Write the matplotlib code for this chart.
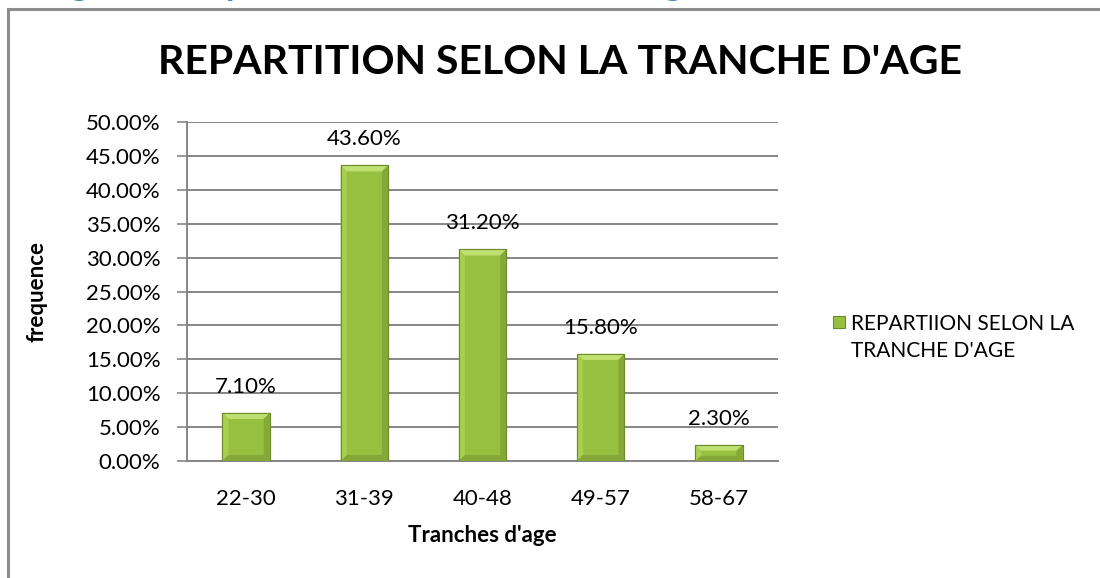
import matplotlib.pyplot as plt
from matplotlib.patches import Polygon, Rectangle
import numpy as np

plt.rcParams['font.family'] = ['Lato', 'DejaVu Sans']

# Data
tranches = ['22-30', '31-39', '40-48', '49-57', '58-67']
frequences = [7.10, 43.60, 31.20, 15.80, 2.30]  # en %
y_ticks = [0, 5, 10, 15, 20, 25, 30, 35, 40, 45, 50]
serie = "REPARTIION SELON LA\nTRANCHE D'AGE"

fig = plt.figure(figsize=(11, 5.78), dpi=100)
ax = fig.add_axes([0.170, 0.2024, 0.5373, 0.5865])

# outer frame of the chart object
fig.patches.append(Rectangle((8 / 1100, -0.05), 1.2, 1 - 9 / 578 + 0.05,
                             transform=fig.transFigure, fill=False,
                             edgecolor='#8c8c8c', linewidth=2.2))

# heading of the document, cut off at the top
fig.text(42 / 1100, 1 + 5 / 578, "Figure 1 : répartition selon la tranche d'age",
         color='#4f81bd', fontsize=25, fontweight='bold', va='baseline', ha='left')

x = np.arange(len(tranches))
bars = ax.bar(x, frequences, width=0.4, color='#98c040', edgecolor='#6b8a2a',
              linewidth=0.8, zorder=3)

# bevel effect on each bar
px_y = 50 / 339.0   # data units per pixel (y)
px_x = 5 / 591.0    # data units per pixel (x)
for b in bars:
    x0, y0 = b.get_x(), b.get_y()
    w, h = b.get_width(), b.get_height()
    x1, y1 = x0 + w, y0 + h
    bx = 6 * px_x
    by = min(6 * px_y, h / 3)
    ax.add_patch(Polygon([(x0, y1), (x1, y1), (x1 - bx, y1 - by), (x0 + bx, y1 - by)],
                         closed=True, facecolor='#c0e172', edgecolor='none', zorder=4))
    ax.add_patch(Polygon([(x0, y1), (x0 + bx, y1 - by), (x0 + bx, y0 + by), (x0, y0)],
                         closed=True, facecolor='#a9cf50', edgecolor='none', zorder=4))
    ax.add_patch(Polygon([(x1, y1), (x1 - bx, y1 - by), (x1 - bx, y0 + by), (x1, y0)],
                         closed=True, facecolor='#85a838', edgecolor='none', zorder=4))
    ax.add_patch(Polygon([(x0, y0), (x1, y0), (x1 - bx, y0 + by), (x0 + bx, y0 + by)],
                         closed=True, facecolor='#86a638', edgecolor='none', zorder=4))
    ax.add_patch(Rectangle((x0, y0), w, h, fill=False, edgecolor='#6b8a2a',
                           linewidth=0.8, zorder=5))

# value labels
for i, v in enumerate(frequences):
    ax.text(i, v + 26 * px_y, f'{v:.2f}%', ha='center', va='center', fontsize=16, zorder=6)

ax.set_xlim(-0.5, len(tranches) - 0.5)
ax.set_ylim(0, 50)
ax.set_yticks(y_ticks)
ax.set_yticklabels([f'{t:.2f}%' for t in y_ticks], fontsize=16)
ax.set_xticks(x)
ax.set_xticklabels(tranches, fontsize=16)
ax.tick_params(axis='x', length=0, pad=20)
ax.tick_params(axis='y', length=7, color='#868686', width=1.2, pad=12)

ax.grid(axis='y', color='#868686', linewidth=1.4, zorder=1)
ax.set_axisbelow(True)
for s in ['top', 'right']:
    ax.spines[s].set_visible(False)
ax.spines['left'].set_color('#868686')
ax.spines['left'].set_linewidth(1.4)
ax.spines['bottom'].set_color('#868686')
ax.spines['bottom'].set_linewidth(1.4)

ax.set_xlabel("Tranches d'age", fontsize=16, fontweight='bold', labelpad=12)
ax.set_ylabel('frequence', fontsize=16, fontweight='bold', labelpad=28)

fig.text(560 / 1100, 1 - 62 / 578, "REPARTITION SELON LA TRANCHE D'AGE",
         ha='center', va='center', fontsize=29.5, fontweight='bold')

# legend: marker beside the first line of the series name
fig.patches.append(Rectangle((833 / 1100, 1 - 328 / 578), 12 / 1100, 12 / 578,
                             transform=fig.transFigure, facecolor='#98c040',
                             edgecolor='#6b8a2a', linewidth=0.8))
fig.text(851 / 1100, 1 - 314 / 578, serie, ha='left', va='top', fontsize=15,
         linespacing=1.45)

plt.savefig('out.png', dpi=100)
plt.close()
